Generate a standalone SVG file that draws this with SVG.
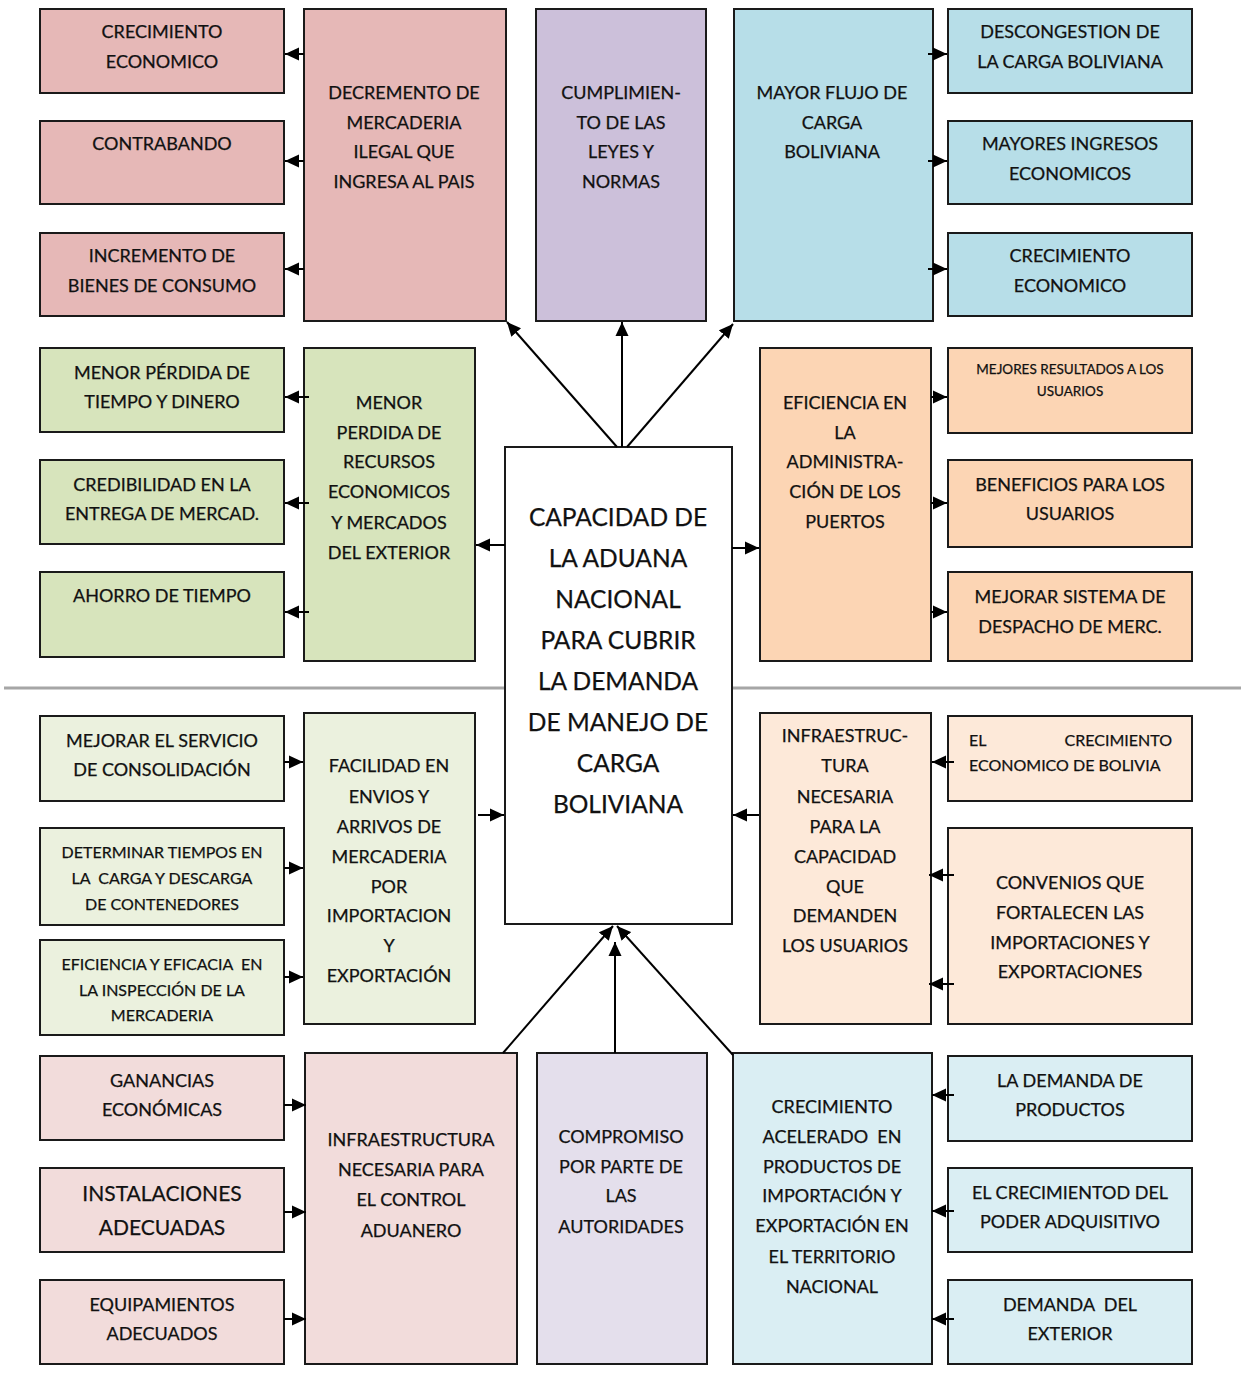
<svg xmlns="http://www.w3.org/2000/svg" width="1241" height="1374" viewBox="0 0 1241 1374">
<style>
rect{stroke:#1a1a1a;stroke-width:2}
text{font-family:Lato,"Open Sans",sans-serif;fill:#111;text-anchor:middle;font-size:18px;stroke:#111;stroke-width:0.25}
.pre{white-space:pre}
.s13{font-size:13.5px}
.s15{font-size:16px}
.s19{font-size:21px}
.c{font-size:24.5px}
.con line{stroke:#000;stroke-width:2}
.c1{fill:#e6b8b7}.c2{fill:#ccc0da}.c3{fill:#b7dee8}.c4{fill:#d7e4bc}.c5{fill:#fcd5b4}
.c6{fill:#ebf1de}.c7{fill:#fde9d9}.c8{fill:#f2dcdb}.c9{fill:#e4dfec}.c10{fill:#daeef3}
</style>
<defs>
<marker id="a" markerUnits="userSpaceOnUse" markerWidth="14" markerHeight="14" refX="14" refY="7" orient="auto">
<path d="M0,0.5 L14,7 L0,13.5 z" fill="#000"/>
</marker>
</defs>
<line x1="4" y1="688" x2="505" y2="688" stroke="#a6a6a6" stroke-width="3"/>
<line x1="733" y1="688" x2="1241" y2="688" stroke="#a6a6a6" stroke-width="3"/>

<g id="top-left-1"><rect class="c1" x="40" y="9" width="244" height="84"/><text><tspan x="162" y="38">CRECIMIENTO</tspan><tspan x="162" y="68">ECONOMICO</tspan></text></g>
<g id="top-left-2"><rect class="c1" x="40" y="121" width="244" height="83"/><text x="162" y="150">CONTRABANDO</text></g>
<g id="top-left-3"><rect class="c1" x="40" y="233" width="244" height="83"/><text><tspan x="162" y="262">INCREMENTO DE</tspan><tspan x="162" y="292">BIENES DE CONSUMO</tspan></text></g>
<g id="decremento"><rect class="c1" x="304" y="9" width="202" height="312"/><text><tspan x="404" y="99">DECREMENTO DE</tspan><tspan x="404" y="129">MERCADERIA</tspan><tspan x="404" y="158">ILEGAL QUE</tspan><tspan x="404" y="188">INGRESA AL PAIS</tspan></text></g>
<g id="cumplimiento"><rect class="c2" x="536" y="9" width="170" height="312"/><text><tspan x="621" y="99">CUMPLIMIEN-</tspan><tspan x="621" y="129">TO DE LAS</tspan><tspan x="621" y="158">LEYES Y</tspan><tspan x="621" y="188">NORMAS</tspan></text></g>
<g id="mayor-flujo"><rect class="c3" x="734" y="9" width="199" height="312"/><text><tspan x="832" y="99">MAYOR FLUJO DE</tspan><tspan x="832" y="129">CARGA</tspan><tspan x="832" y="158">BOLIVIANA</tspan></text></g>
<g id="top-right-1"><rect class="c3" x="948" y="9" width="244" height="84"/><text><tspan x="1070" y="38">DESCONGESTION DE</tspan><tspan x="1070" y="68">LA CARGA BOLIVIANA</tspan></text></g>
<g id="top-right-2"><rect class="c3" x="948" y="121" width="244" height="83"/><text><tspan x="1070" y="150">MAYORES INGRESOS</tspan><tspan x="1070" y="180">ECONOMICOS</tspan></text></g>
<g id="top-right-3"><rect class="c3" x="948" y="233" width="244" height="83"/><text><tspan x="1070" y="262">CRECIMIENTO</tspan><tspan x="1070" y="292">ECONOMICO</tspan></text></g>

<g id="mid-left-1"><rect class="c4" x="40" y="348" width="244" height="84"/><text><tspan x="162" y="379">MENOR PÉRDIDA DE</tspan><tspan x="162" y="408">TIEMPO Y DINERO</tspan></text></g>
<g id="mid-left-2"><rect class="c4" x="40" y="460" width="244" height="84"/><text><tspan x="162" y="491">CREDIBILIDAD EN LA</tspan><tspan x="162" y="520">ENTREGA DE MERCAD.</tspan></text></g>
<g id="mid-left-3"><rect class="c4" x="40" y="572" width="244" height="85"/><text x="162" y="602">AHORRO DE TIEMPO</text></g>
<g id="menor-perdida"><rect class="c4" x="304" y="348" width="171" height="313"/><text><tspan x="389" y="409">MENOR</tspan><tspan x="389" y="439">PERDIDA DE</tspan><tspan x="389" y="468">RECURSOS</tspan><tspan x="389" y="498">ECONOMICOS</tspan><tspan x="389" y="529">Y MERCADOS</tspan><tspan x="389" y="559">DEL EXTERIOR</tspan></text></g>
<g id="eficiencia"><rect class="c5" x="760" y="348" width="171" height="313"/><text><tspan x="845" y="409">EFICIENCIA EN</tspan><tspan x="845" y="439">LA</tspan><tspan x="845" y="468">ADMINISTRA-</tspan><tspan x="845" y="498">CIÓN DE LOS</tspan><tspan x="845" y="528">PUERTOS</tspan></text></g>
<g id="mid-right-1"><rect class="c5" x="948" y="348" width="244" height="85"/><text class="s13"><tspan x="1070" y="374">MEJORES RESULTADOS A LOS</tspan><tspan x="1070" y="396">USUARIOS</tspan></text></g>
<g id="mid-right-2"><rect class="c5" x="948" y="460" width="244" height="87"/><text><tspan x="1070" y="491">BENEFICIOS PARA LOS</tspan><tspan x="1070" y="520">USUARIOS</tspan></text></g>
<g id="mid-right-3"><rect class="c5" x="948" y="572" width="244" height="89"/><text><tspan x="1070" y="603">MEJORAR SISTEMA DE</tspan><tspan x="1070" y="633">DESPACHO DE MERC.</tspan></text></g>

<g id="central"><rect fill="#fff" x="505" y="447" width="227" height="477"/><text class="c"><tspan x="618" y="526">CAPACIDAD DE</tspan><tspan x="618" y="567">LA ADUANA</tspan><tspan x="618" y="608">NACIONAL</tspan><tspan x="618" y="649">PARA CUBRIR</tspan><tspan x="618" y="690">LA DEMANDA</tspan><tspan x="618" y="731">DE MANEJO DE</tspan><tspan x="618" y="772">CARGA</tspan><tspan x="618" y="813">BOLIVIANA</tspan></text></g>

<g id="low-left-1"><rect class="c6" x="40" y="716" width="244" height="85"/><text><tspan x="162" y="747">MEJORAR EL SERVICIO</tspan><tspan x="162" y="776">DE CONSOLIDACIÓN</tspan></text></g>
<g id="low-left-2"><rect class="c6" x="40" y="828" width="244" height="97"/><text class="s15 pre"><tspan x="162" y="858">DETERMINAR TIEMPOS EN</tspan><tspan x="162" y="884">LA  CARGA Y DESCARGA</tspan><tspan x="162" y="910">DE CONTENEDORES</tspan></text></g>
<g id="low-left-3"><rect class="c6" x="40" y="940" width="244" height="95"/><text class="s15 pre"><tspan x="162" y="970">EFICIENCIA Y EFICACIA  EN</tspan><tspan x="162" y="996">LA INSPECCIÓN DE LA</tspan><tspan x="162" y="1021">MERCADERIA</tspan></text></g>
<g id="facilidad"><rect class="c6" x="304" y="713" width="171" height="311"/><text><tspan x="389" y="772">FACILIDAD EN</tspan><tspan x="389" y="803">ENVIOS Y</tspan><tspan x="389" y="833">ARRIVOS DE</tspan><tspan x="389" y="863">MERCADERIA</tspan><tspan x="389" y="893">POR</tspan><tspan x="389" y="922">IMPORTACION</tspan><tspan x="389" y="952">Y</tspan><tspan x="389" y="982">EXPORTACIÓN</tspan></text></g>
<g id="infraestructura-usuarios"><rect class="c7" x="760" y="713" width="171" height="311"/><text><tspan x="845" y="742">INFRAESTRUC-</tspan><tspan x="845" y="772">TURA</tspan><tspan x="845" y="803">NECESARIA</tspan><tspan x="845" y="833">PARA LA</tspan><tspan x="845" y="863">CAPACIDAD</tspan><tspan x="845" y="893">QUE</tspan><tspan x="845" y="922">DEMANDEN</tspan><tspan x="845" y="952">LOS USUARIOS</tspan></text></g>
<g id="low-right-1"><rect class="c7" x="948" y="716" width="244" height="85"/><text class="s15" style="text-anchor:start"><tspan x="969" y="746">EL</tspan><tspan x="1172" y="746" style="text-anchor:end">CRECIMIENTO</tspan><tspan x="969" y="771">ECONOMICO DE BOLIVIA</tspan></text></g>
<g id="low-right-2"><rect class="c7" x="948" y="828" width="244" height="196"/><text><tspan x="1070" y="889">CONVENIOS QUE</tspan><tspan x="1070" y="919">FORTALECEN LAS</tspan><tspan x="1070" y="949">IMPORTACIONES Y</tspan><tspan x="1070" y="978">EXPORTACIONES</tspan></text></g>

<g id="bottom-left-1"><rect class="c8" x="40" y="1056" width="244" height="84"/><text><tspan x="162" y="1087">GANANCIAS</tspan><tspan x="162" y="1116">ECONÓMICAS</tspan></text></g>
<g id="bottom-left-2"><rect class="c8" x="40" y="1168" width="244" height="84"/><text class="s19"><tspan x="162" y="1201">INSTALACIONES</tspan><tspan x="162" y="1235">ADECUADAS</tspan></text></g>
<g id="bottom-left-3"><rect class="c8" x="40" y="1280" width="244" height="84"/><text><tspan x="162" y="1311">EQUIPAMIENTOS</tspan><tspan x="162" y="1340">ADECUADOS</tspan></text></g>
<g id="infraestructura-control"><rect class="c8" x="305" y="1053" width="212" height="311"/><text><tspan x="411" y="1146">INFRAESTRUCTURA</tspan><tspan x="411" y="1176">NECESARIA PARA</tspan><tspan x="411" y="1206">EL CONTROL</tspan><tspan x="411" y="1237">ADUANERO</tspan></text></g>
<g id="compromiso"><rect class="c9" x="537" y="1053" width="170" height="311"/><text><tspan x="621" y="1143">COMPROMISO</tspan><tspan x="621" y="1173">POR PARTE DE</tspan><tspan x="621" y="1202">LAS</tspan><tspan x="621" y="1233">AUTORIDADES</tspan></text></g>
<g id="crecimiento-acelerado"><rect class="c10" x="733" y="1053" width="199" height="311"/><text class="pre"><tspan x="832" y="1113">CRECIMIENTO</tspan><tspan x="832" y="1143">ACELERADO  EN</tspan><tspan x="832" y="1173">PRODUCTOS DE</tspan><tspan x="832" y="1202">IMPORTACIÓN Y</tspan><tspan x="832" y="1232">EXPORTACIÓN EN</tspan><tspan x="832" y="1263">EL TERRITORIO</tspan><tspan x="832" y="1293">NACIONAL</tspan></text></g>
<g id="bottom-right-1"><rect class="c10" x="948" y="1056" width="244" height="85"/><text><tspan x="1070" y="1087">LA DEMANDA DE</tspan><tspan x="1070" y="1116">PRODUCTOS</tspan></text></g>
<g id="bottom-right-2"><rect class="c10" x="948" y="1168" width="244" height="84"/><text><tspan x="1070" y="1199">EL CRECIMIENTOD DEL</tspan><tspan x="1070" y="1228">PODER ADQUISITIVO</tspan></text></g>
<g id="bottom-right-3"><rect class="c10" x="948" y="1280" width="244" height="84"/><text class="pre"><tspan x="1070" y="1311">DEMANDA  DEL</tspan><tspan x="1070" y="1340">EXTERIOR</tspan></text></g>

<g class="con" id="connectors">
<line x1="304" y1="54" x2="285" y2="54" marker-end="url(#a)"/>
<line x1="304" y1="161" x2="285" y2="161" marker-end="url(#a)"/>
<line x1="304" y1="269" x2="285" y2="269" marker-end="url(#a)"/>
<line x1="928" y1="54" x2="947" y2="54" marker-end="url(#a)"/>
<line x1="928" y1="161" x2="947" y2="161" marker-end="url(#a)"/>
<line x1="928" y1="269" x2="947" y2="269" marker-end="url(#a)"/>
<line x1="617" y1="447" x2="507" y2="322" marker-end="url(#a)"/>
<line x1="622" y1="447" x2="622" y2="322" marker-end="url(#a)"/>
<line x1="627" y1="447" x2="733" y2="324" marker-end="url(#a)"/>
<line x1="309" y1="397" x2="285" y2="397" marker-end="url(#a)"/>
<line x1="309" y1="503" x2="285" y2="503" marker-end="url(#a)"/>
<line x1="309" y1="612" x2="285" y2="612" marker-end="url(#a)"/>
<line x1="505" y1="545" x2="476" y2="545" marker-end="url(#a)"/>
<line x1="732" y1="548" x2="759" y2="548" marker-end="url(#a)"/>
<line x1="931" y1="397" x2="947" y2="397" marker-end="url(#a)"/>
<line x1="931" y1="503" x2="947" y2="503" marker-end="url(#a)"/>
<line x1="931" y1="612" x2="947" y2="612" marker-end="url(#a)"/>
<line x1="284" y1="762" x2="303" y2="762" marker-end="url(#a)"/>
<line x1="284" y1="868" x2="303" y2="868" marker-end="url(#a)"/>
<line x1="284" y1="977" x2="303" y2="977" marker-end="url(#a)"/>
<line x1="478" y1="815" x2="504" y2="815" marker-end="url(#a)"/>
<line x1="759" y1="815" x2="733" y2="815" marker-end="url(#a)"/>
<line x1="954" y1="762" x2="932" y2="762" marker-end="url(#a)"/>
<line x1="954" y1="875" x2="929" y2="875" marker-end="url(#a)"/>
<line x1="954" y1="984" x2="929" y2="984" marker-end="url(#a)"/>
<line x1="284" y1="1105" x2="306" y2="1105" marker-end="url(#a)"/>
<line x1="284" y1="1212" x2="306" y2="1212" marker-end="url(#a)"/>
<line x1="284" y1="1319" x2="306" y2="1319" marker-end="url(#a)"/>
<line x1="954" y1="1095" x2="932" y2="1095" marker-end="url(#a)"/>
<line x1="954" y1="1211" x2="932" y2="1211" marker-end="url(#a)"/>
<line x1="954" y1="1319" x2="932" y2="1319" marker-end="url(#a)"/>
<line x1="503" y1="1053" x2="613" y2="926" marker-end="url(#a)"/>
<line x1="615" y1="1053" x2="615" y2="942" marker-end="url(#a)"/>
<line x1="733" y1="1055" x2="617" y2="926" marker-end="url(#a)"/>
</g>
</svg>
